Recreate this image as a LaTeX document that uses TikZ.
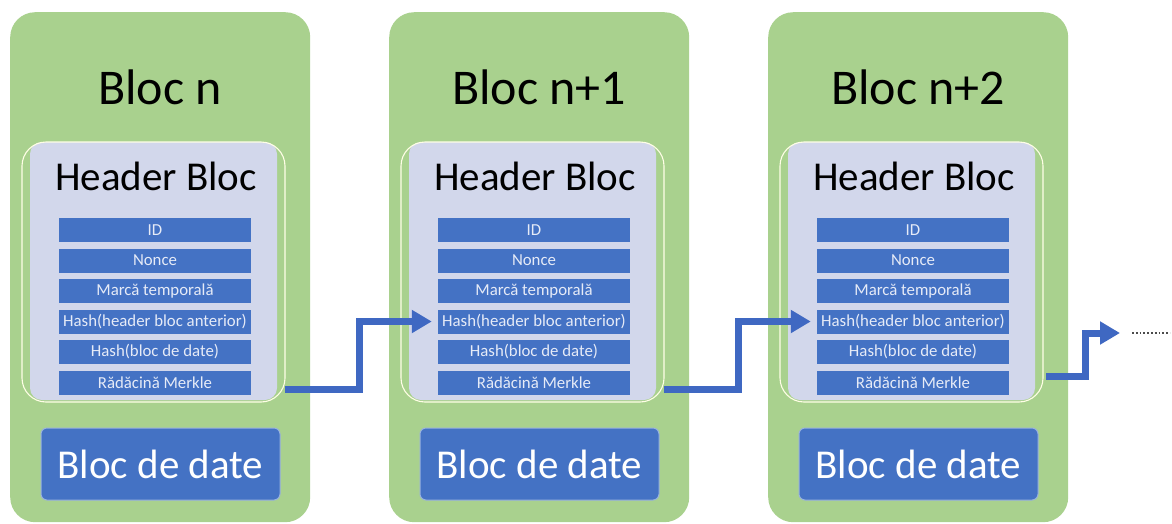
\documentclass[tikz,border=0pt]{standalone}
\usepackage{fontspec}
\setmainfont{Carlito}
\usetikzlibrary{arrows.meta}
\definecolor{grn}{HTML}{A9D18E}
\definecolor{lav}{HTML}{D2D7EB}
\definecolor{blu}{HTML}{4472C4}
\definecolor{arr}{HTML}{3F68C2}
\definecolor{rowtxt}{HTML}{E6EBF7}
\tikzset{
  greenbox/.style={fill=grn, draw=none, rounded corners=25pt, minimum width=300pt, minimum height=510pt, anchor=north west, inner sep=0pt},
  hdrbox/.style={fill=lav, draw=none, rounded corners=12pt, minimum width=247pt, minimum height=258pt, inner sep=0pt},
  hdrline/.style={draw=white!90!yellow, line width=1.1pt, rounded corners=24pt, minimum width=263pt, minimum height=260pt, inner sep=0pt},
  rowbox/.style={fill=blu, draw=none, minimum width=192pt, minimum height=24pt, inner sep=0pt, text=rowtxt, font=\fontsize{16.8}{18}\selectfont},
  databox/.style={fill=blu, draw=blu!55!white, line width=1pt, rounded corners=6pt, minimum width=239pt, minimum height=72pt, inner sep=0pt, text=white, font=\fontsize{41}{48}\selectfont},
  titletxt/.style={anchor=base, inner sep=0pt, font=\fontsize{50}{60}\selectfont},
  hdrtxt/.style={anchor=base, inner sep=0pt, font=\fontsize{41}{48}\selectfont},
  conn/.style={draw=arr, line width=7pt, -{Triangle[length=20pt,width=22pt]}, shorten >=6pt},
  dots/.style={draw=black!70, line width=1.8pt, dash pattern=on 1.8pt off 2pt}
}
\begin{document}
\begin{tikzpicture}[x=1pt, y=-1pt]
\useasboundingbox (0,0) rectangle (1172,523);
\foreach \i/\t in {0/n, 1/n+1, 2/n+2}{
  \pgfmathsetmacro{\dx}{\i*379}
  \node[greenbox] (g\i) at (10+\dx,12) {};
  \node[titletxt] (t\i) at (160+\dx,104) {Bloc \t};
  \node[hdrbox] (h\i) at (153.5+\dx,271) {};
  \node[hdrline] (o\i) at (153.5+\dx,272) {};
  \node[hdrtxt] (ht\i) at (156+\dx,190) {Header Bloc};
  \foreach \j/\txt in {1/ID, 2/Nonce, 3/Marcă temporală, 4/Hash(header bloc anterior), 5/Hash(bloc de date), 6/Rădăcină Merkle}{
    \node[rowbox] (r\i-\j) at (155+\dx,{230+(\j-1)*30.5}) {\txt};
  }
  \node[databox] (d\i) at (160.5+\dx,464) {Bloc de date};
}
% connectors
\coordinate (s0) at (285,389);
\coordinate (k0) at (359,350);
\coordinate (s1) at (664,389);
\coordinate (k1) at (738,350);
\coordinate (s2) at (1046,376);
\coordinate (k2) at (1085,350);
\coordinate (e2) at (1126,333);
\coordinate (p1) at (1132,333);
\coordinate (p2) at (1170,333);
\draw[conn] (s0) -| (k0) |- (r1-4.west);
\draw[conn] (s1) -| (k1) |- (r2-4.west);
\draw[conn] (s2) -| (k2) |- (e2);
\draw[dots] (p1) -- (p2);
\end{tikzpicture}
\end{document}
